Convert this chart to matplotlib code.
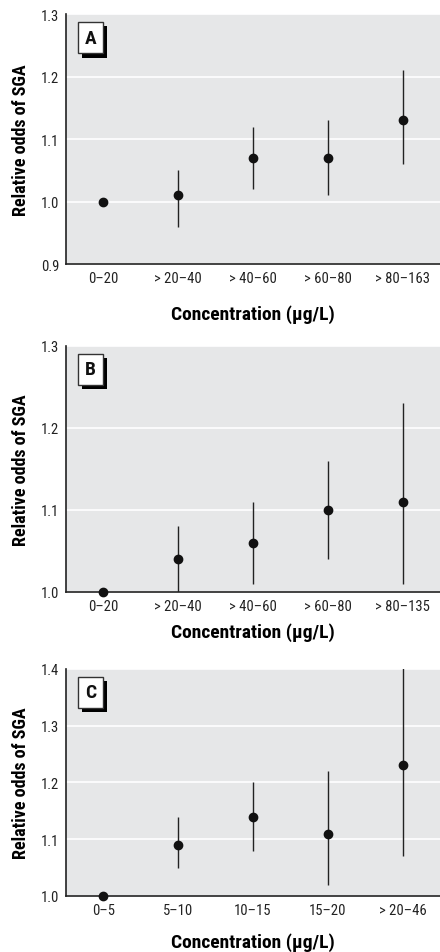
import matplotlib.pyplot as plt
import matplotlib.patheffects as pe
from matplotlib import font_manager

# pick a narrow sans face if one is installed
names = {f.name for f in font_manager.fontManager.ttflist}
family = 'DejaVu Sans'
for cand in ['Liberation Sans Narrow', 'Roboto Condensed', 'Open Sans Condensed',
             'DejaVu Sans Condensed', 'Liberation Sans']:
    if cand in names:
        family = cand
        break
plt.rcParams['font.family'] = [family, 'DejaVu Sans']
plt.rcParams['font.stretch'] = 'condensed'

# data
labels_a = ['0–20', '> 20–40', '> 40–60', '> 60–80', '> 80–163']
or_a = [1.00, 1.01, 1.07, 1.07, 1.13]
lo_a = [1.00, 0.96, 1.02, 1.01, 1.06]
hi_a = [1.00, 1.05, 1.12, 1.13, 1.21]

labels_b = ['0–20', '> 20–40', '> 40–60', '> 60–80', '> 80–135']
or_b = [1.00, 1.04, 1.06, 1.10, 1.11]
lo_b = [1.00, 1.00, 1.01, 1.04, 1.01]
hi_b = [1.00, 1.08, 1.11, 1.16, 1.23]

labels_c = ['0–5', '5–10', '10–15', '15–20', '> 20–46']
or_c = [1.00, 1.09, 1.14, 1.11, 1.23]
lo_c = [1.00, 1.05, 1.08, 1.02, 1.07]
hi_c = [1.00, 1.14, 1.20, 1.22, 1.41]

panels = [
    ('A', labels_a, or_a, lo_a, hi_a, (0.9, 1.3), [0.9, 1.0, 1.1, 1.2, 1.3],
     [0.15, 0.7219, 0.85, 0.2623], 14),
    ('B', labels_b, or_b, lo_b, hi_b, (1.0, 1.3), [1.0, 1.1, 1.2, 1.3],
     [0.15, 0.3778, 0.85, 0.2581], 7),
    ('C', labels_c, or_c, lo_c, hi_c, (1.0, 1.4), [1.0, 1.1, 1.2, 1.3, 1.4],
     [0.15, 0.0588, 0.85, 0.2382], 11),
]

fig = plt.figure(figsize=(4.4, 9.53), dpi=100)

for letter, labels, est, lo, hi, ylim, yticks, pos, xpad in panels:
    ax = fig.add_axes(pos)
    ax.set_facecolor('#e6e7e8')
    x = list(range(len(labels)))
    ax.vlines(x, lo, hi, color='#222222', linewidth=1.0, zorder=2)
    ax.plot(x, est, 'o', color='#111111', markersize=6, clip_on=False, zorder=3)
    ax.set_xlim(-0.5, 4.5)
    ax.set_ylim(*ylim)
    ax.set_yticks(yticks)
    ax.set_yticklabels([f'{t:.1f}' for t in yticks])
    ax.set_xticks(x)
    ax.set_xticklabels(labels)
    ax.tick_params(length=0, labelsize=10.5, colors='#222222', pad=5)
    ax.yaxis.grid(True, color='white', linewidth=1.2)
    ax.set_axisbelow(True)
    for s in ['top', 'right']:
        ax.spines[s].set_visible(False)
    for s in ['left', 'bottom']:
        ax.spines[s].set_color('#222222')
        ax.spines[s].set_linewidth(1.2)
    ax.set_ylabel('Relative odds of SGA', fontsize=13, fontweight='bold', labelpad=8)
    ax.set_xlabel('Concentration (μg/L)', fontsize=14, fontweight='bold', labelpad=xpad)

    # letter box with drop shadow
    t = ax.annotate(letter, xy=(0, 1), xycoords='axes fraction',
                    xytext=(24.5, -23.5), textcoords='offset pixels',
                    fontsize=14, fontweight='bold', ha='center', va='center',
                    color='#111111',
                    bbox=dict(boxstyle='square,pad=0.35', facecolor='white',
                              edgecolor='#333333', linewidth=1))
    t.get_bbox_patch().set_path_effects([
        pe.SimplePatchShadow(offset=(3, -3), shadow_rgbFace='black', alpha=1),
        pe.Normal()])

fig.savefig('out.png', dpi=100)
